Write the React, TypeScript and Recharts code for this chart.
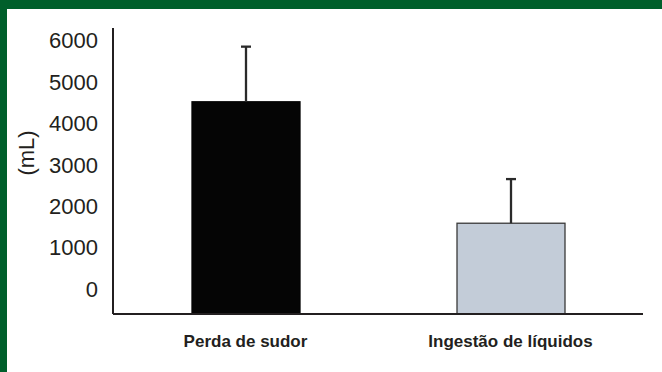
import React from 'react';
import { BarChart, Bar, XAxis, YAxis, Cell, Label } from 'recharts';

const categories = ['Perda de sudor', 'Ingestão de líquidos'];
const means = [4520, 1590];
const sds = [1330, 1065];
const barFills = ['#050505', '#c3ccd8'];
const yTicks = [0, 1000, 2000, 3000, 4000, 5000, 6000];
const yDomain = [-600, 6300];
const yLabel = '(mL)';

const data = categories.map((name, i) => ({ name, value: means[i], sd: sds[i] }));

const INK = '#231f20';
const GREEN = '#005f2b';
const FONT = '"Liberation Sans", Arial, Helvetica, sans-serif';

const ExtendedBar = (props: any) => {
  const { x, y, width, height, fill, stroke, strokeWidth, background, payload } = props;
  const bottom = background && background.height ? background.y + background.height : y + height;
  const pxPerUnit = payload && payload.value ? height / payload.value : 0;
  const errTop = y - (payload ? payload.sd : 0) * pxPerUnit;
  const cx = x + width / 2;
  return (
    <g>
      <rect x={x} y={y} width={width} height={bottom - y} fill={fill} stroke={stroke} strokeWidth={strokeWidth} />
      <line x1={cx} y1={y} x2={cx} y2={errTop} stroke="#2a2a2a" strokeWidth={2.3} />
      <line x1={cx - 5} y1={errTop} x2={cx + 5} y2={errTop} stroke="#2a2a2a" strokeWidth={2.3} />
    </g>
  );
};

const YLabelContent = (props: any) => {
  const vb = props.viewBox || { x: 0, y: 0, width: 0, height: 0 };
  const cx = vb.x + 26;
  const cy = vb.y + vb.height / 2 - 18;
  return (
    <text
      x={cx}
      y={cy}
      transform={`rotate(-90, ${cx}, ${cy})`}
      textAnchor="middle"
      dominantBaseline="central"
      fill={INK}
      fontSize={22}
      fontFamily={FONT}
    >
      {yLabel}
    </text>
  );
};

export default function App() {
  return (
    <div style={{ position: 'absolute', left: 0, top: 0, width: 662, height: 372, background: '#ffffff', overflow: 'hidden' }}>
      <BarChart
        width={662}
        height={372}
        data={data}
        margin={{ top: 28, right: 19, bottom: 28, left: 0 }}
        style={{ fontFamily: FONT }}
      >
        <XAxis
          dataKey="name"
          height={30}
          axisLine={{ stroke: INK, strokeWidth: 2 }}
          tickLine={false}
          tickSize={0}
          tickMargin={21}
          tick={{ fill: INK, fontSize: 17, fontWeight: 'bold', fontFamily: FONT }}
        />
        <YAxis
          width={113}
          domain={yDomain}
          ticks={yTicks}
          interval={0}
          allowDataOverflow
          axisLine={{ stroke: INK, strokeWidth: 2 }}
          tickLine={false}
          tickSize={0}
          tickMargin={15}
          tick={{ fill: INK, fontSize: 22, fontFamily: FONT }}
        >
          <Label content={YLabelContent} />
        </YAxis>
        <Bar dataKey="value" barSize={108} isAnimationActive={false} shape={ExtendedBar}>
          {data.map((d, i) => (
            <Cell key={d.name} fill={barFills[i]} stroke={i === 0 ? barFills[i] : '#3a3a3a'} strokeWidth={1.3} />
          ))}
        </Bar>
      </BarChart>
      <div style={{ position: 'absolute', left: 0, top: 0, width: 662, height: 9, background: GREEN }} />
      <div style={{ position: 'absolute', left: 0, top: 0, width: 7, height: 372, background: GREEN }} />
    </div>
  );
}
